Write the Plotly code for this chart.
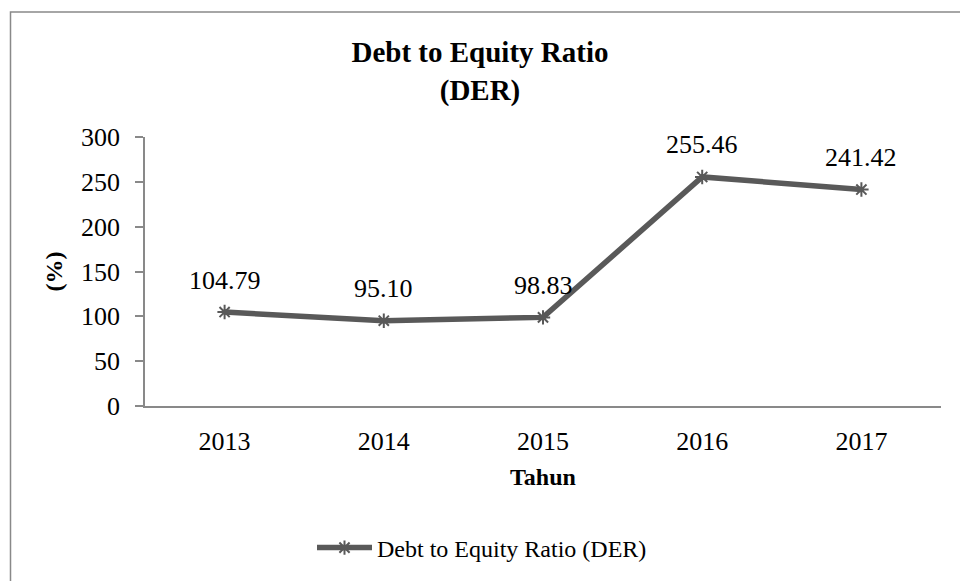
import plotly.graph_objects as go

years = [2013, 2014, 2015, 2016, 2017]
der_values = [104.79, 95.10, 98.83, 255.46, 241.42]
der_labels = ["104.79", "95.10", "98.83", "255.46", "241.42"]
y_ticks = [0, 50, 100, 150, 200, 250, 300]

FONT = "Liberation Serif, Times New Roman, serif"
LINE_COLOR = "#595959"
AXIS_COLOR = "#898989"

W, H = 960, 581
L, R, T, B = 145, 19, 137, 174
pw, ph = W - L - R, H - T - B

def px_to_paper_x(px):
    return (px - L) / pw

def px_to_paper_y(py):
    return (H - B - py) / ph

fig = go.Figure()
fig.add_trace(go.Scatter(
    x=years, y=der_values,
    mode="lines+markers",
    name="Debt to Equity Ratio (DER)",
    line=dict(color=LINE_COLOR, width=5.5),
    marker=dict(symbol="asterisk-open", size=12, color=LINE_COLOR,
                line=dict(color=LINE_COLOR, width=2)),
))

for xv, yv, lab in zip(years, der_values, der_labels):
    fig.add_annotation(x=xv, y=yv, xref="x", yref="y", text=lab,
                       showarrow=False, yanchor="middle", yshift=32,
                       font=dict(family=FONT, size=26, color="black"))

# outer chart border (extends past right and bottom edges like the reference)
fig.add_shape(type="rect", xref="paper", yref="paper",
              x0=px_to_paper_x(10.5), x1=px_to_paper_x(970),
              y0=px_to_paper_y(600), y1=px_to_paper_y(11.5),
              line=dict(color=AXIS_COLOR, width=1.5), layer="below")

fig.update_layout(
    width=W, height=H,
    margin=dict(l=L, r=R, t=T, b=B),
    paper_bgcolor="white", plot_bgcolor="white",
    font=dict(family=FONT, size=26, color="black"),
    title=dict(text="<b>Debt to Equity Ratio<br>(DER)</b>",
               xref="container", x=480 / W, xanchor="center",
               yref="container", y=1 - 62 / H, yanchor="top",
               font=dict(family=FONT, size=29, color="black")),
    showlegend=True,
    legend=dict(orientation="h", x=px_to_paper_x(312), xanchor="left",
                y=px_to_paper_y(548), yanchor="middle",
                font=dict(family=FONT, size=24, color="black"),
                itemwidth=55, bgcolor="rgba(0,0,0,0)"),
    xaxis=dict(range=[2012.5, 2017.5], tickvals=years,
               ticktext=[str(y) for y in years], showgrid=False,
               showline=True, linecolor=AXIS_COLOR, linewidth=1.5,
               ticks="", ticklabelstandoff=11, zeroline=False,
               tickfont=dict(family=FONT, size=26, color="black"),
               title=dict(text="<b>Tahun</b>", standoff=13,
                          font=dict(family=FONT, size=24, color="black"))),
    yaxis=dict(range=[0, 300], tickvals=y_ticks, showgrid=False,
               showline=True, linecolor=AXIS_COLOR, linewidth=1.5,
               ticks="outside", ticklen=8, tickcolor=AXIS_COLOR, tickwidth=1.5,
               ticklabelstandoff=10, zeroline=False,
               tickfont=dict(family=FONT, size=26, color="black"),
               title=dict(text="<b>(%)</b>", standoff=12,
                          font=dict(family=FONT, size=24, color="black"))),
)

fig.write_html("out.html")
